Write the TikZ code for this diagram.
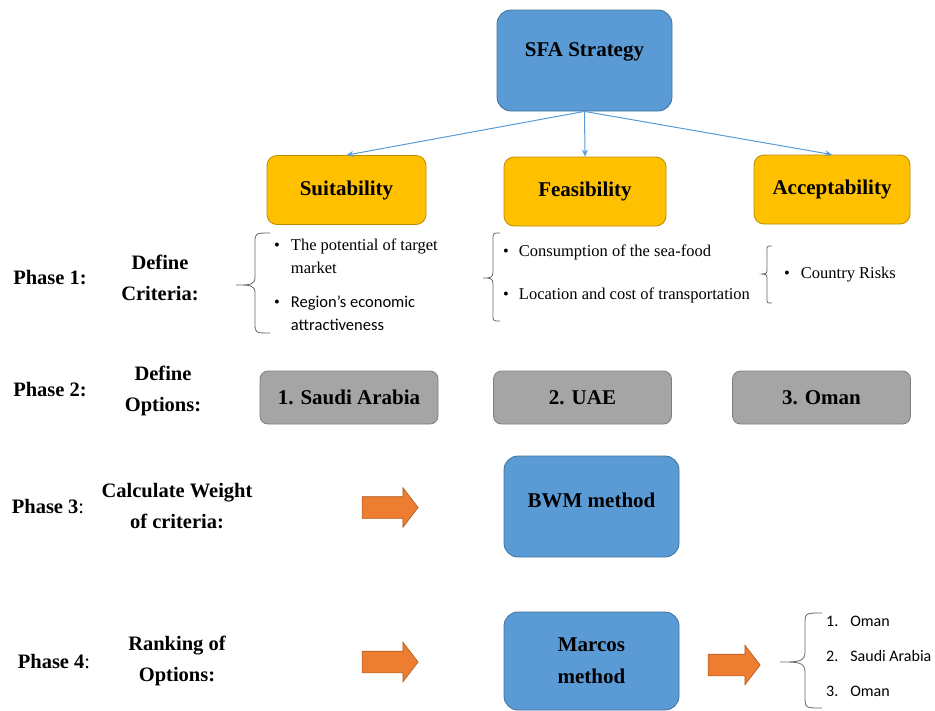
\documentclass[tikz,border=0pt]{standalone}
\usepackage{fontspec}
\setmainfont{Liberation Serif}
\setsansfont{Carlito}
\usetikzlibrary{arrows.meta,shapes.arrows}
\definecolor{sfablue}{HTML}{5B9BD5}
\definecolor{sfablueline}{HTML}{41719C}
\definecolor{critgold}{HTML}{FFC000}
\definecolor{critgoldline}{HTML}{BC8C00}
\definecolor{optgray}{HTML}{A5A5A5}
\definecolor{optgrayline}{HTML}{7F7F7F}
\definecolor{stepor}{HTML}{ED7D31}
\definecolor{steporline}{HTML}{AE5A21}
\tikzset{
  box/.style={rectangle,rounded corners=10pt,line width=0.8pt,inner sep=2pt,
    font=\fontsize{21}{32}\selectfont\bfseries,align=center},
  method/.style={box,fill=sfablue,draw=sfablueline,minimum width=175pt,
    minimum height=101pt,rounded corners=14pt},
  crit/.style={box,fill=critgold,draw=critgoldline,minimum height=69pt},
  optbox/.style={box,fill=optgray,draw=optgrayline,minimum width=178pt,
    minimum height=53pt,rounded corners=8pt},
  boxtext/.style={font=\fontsize{21}{32}\selectfont\bfseries,inner sep=0pt},
  phase/.style={font=\fontsize{20.5}{31}\selectfont\bfseries,align=center,inner sep=0pt},
  items/.style={font=\fontsize{16.5}{23}\selectfont,inner sep=0pt,anchor=base west},
  blockarrow/.style={single arrow,fill=stepor,draw=steporline,line width=0.6pt,
    inner xsep=0pt,inner ysep=10.5pt,single arrow head extend=9pt,
    single arrow tip angle=105},
  link/.style={draw=sfablue,line width=1pt,-{Stealth[length=7pt,width=6pt]}},
  curly/.style={draw=gray!80!black,line width=0.8pt}
}
\begin{document}
\begin{tikzpicture}[x=1pt,y=-1pt]
  \useasboundingbox (0,0) rectangle (935,710);
  % top of the tree
  \node[method] (sfa) at (584.5,60.5) {};
  \node[boxtext] (sfalabel) at (584.5,52) {SFA Strategy};
  \node[crit,minimum width=159pt] (suit) at (346.5,190) {Suitability};
  \node[crit,minimum width=162pt] (feas) at (585,191.5) {Feasibility};
  \node[crit,minimum width=156pt] (acc) at (832,189.5) {Acceptability};
  \draw[link] (sfa.south) -- (suit.north);
  \draw[link] (sfa.south) -- (feas.north);
  \draw[link] (sfa.south) -- (acc.north);
  % phase 1
  \node[phase] (ph1) at (50,278) {Phase 1:};
  \node[phase] (crit1) at (160,278) {Define\\Criteria:};
  \draw[curly] (270,233) .. controls (255,233) .. (255,243) -- (255,277)
    .. controls (255,285) and (250,285) .. (236,285)
    .. controls (250,285) and (255,285) .. (255,293) -- (255,323)
    .. controls (255,333) .. (270,333);
  \node[items] (suitlist) at (274,250) {\begin{tabular}[t]{@{}l@{\hspace{11pt}}l@{}}
    \textbullet & The potential of target\\
    & market\\[11pt]
    \textbullet & {\sffamily Region's economic}\\
    & {\sffamily attractiveness}
  \end{tabular}};
  \draw[curly] (500,233) .. controls (493,233) .. (493,240) -- (493,272)
    .. controls (493,278) and (490,278) .. (483,278)
    .. controls (490,278) and (493,278) .. (493,284) -- (493,314)
    .. controls (493,321) .. (500,321);
  \node[items] (feaslist) at (503,256) {\begin{tabular}[t]{@{}l@{\hspace{10pt}}l@{}}
    \textbullet & Consumption of the sea-food\\[20pt]
    \textbullet & Location and cost of transportation
  \end{tabular}};
  \draw[curly] (772,246) .. controls (767,246) .. (767,251) -- (767,270)
    .. controls (767,274) and (765,274) .. (762,274)
    .. controls (765,274) and (767,274) .. (767,278) -- (767,298)
    .. controls (767,303) .. (772,303);
  \node[items] (acclist) at (784,278) {\begin{tabular}[t]{@{}l@{\hspace{11pt}}l@{}}
    \textbullet & Country Risks
  \end{tabular}};
  % phase 2
  \node[phase] (ph2) at (50,390) {Phase 2:};
  \node[phase] (opt2) at (163,391) {Define\\Options:};
  \node[optbox] (ksa) at (349,397.5) {1. Saudi Arabia};
  \node[optbox] (uae) at (582.5,397.5) {2. UAE};
  \node[optbox] (oman) at (821.5,397.5) {3. Oman};
  % phase 3
  \node[phase] (ph3) at (48,507) {\textbf{Phase 3}{\mdseries:}};
  \node[phase] (wgt3) at (177,506) {Calculate Weight\\of criteria:};
  \node[blockarrow,minimum height=56pt] (go3) at (386,507.5) {};
  \node[method] (bwm) at (591.5,506.5) {};
  \node[boxtext] (bwmlabel) at (591.5,500) {BWM method};
  % phase 4
  \node[phase] (ph4) at (54,662) {\textbf{Phase 4}{\mdseries:}};
  \node[phase] (rank4) at (177,661) {Ranking of\\Options:};
  \node[blockarrow,minimum height=56pt] (go4) at (386,662) {};
  \node[method,minimum height=98pt] (marcos) at (591.5,661) {Marcos\\method};
  \node[blockarrow,minimum height=52pt] (go5) at (730,665) {};
  \draw[curly] (822,613) .. controls (805,613) .. (805,625) -- (805,652)
    .. controls (805,662) and (798,662) .. (780,662)
    .. controls (798,662) and (805,662) .. (805,672) -- (805,696)
    .. controls (805,708) .. (822,708);
  \node[items,font=\fontsize{16}{35}\selectfont\sffamily] (ranklist) at (826,626)
    {\begin{tabular}[t]{@{}l@{\hspace{12pt}}l@{}}
    1. & Oman\\
    2. & Saudi Arabia\\
    3. & Oman
  \end{tabular}};
\end{tikzpicture}
\end{document}
